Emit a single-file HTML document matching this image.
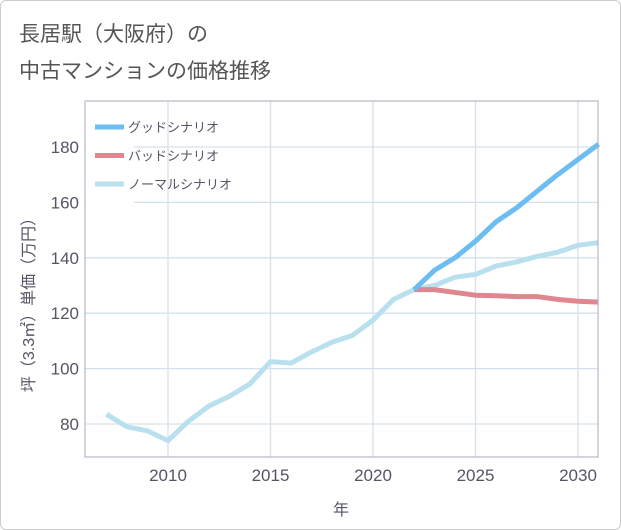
<!DOCTYPE html>
<html><head><meta charset="utf-8"><style>
body{margin:0;background:#fff;}
#wrap{position:relative;width:619px;height:528px;border:1px solid #ccc;border-radius:6px;overflow:hidden;background:#fff;}
text{font-family:"Liberation Sans","Noto Sans CJK JP",sans-serif;}
</style></head><body>
<div id="wrap">
<svg id="chart" width="621" height="530">
<text x="18" y="40" font-size="21" fill="#555">長居駅（大阪府）の</text>
<text x="18" y="77" font-size="21" fill="#555">中古マンションの価格推移</text>
<g id="grid"></g><g id="series"></g><g id="axes"></g>
<g id="legend"></g>
</svg></div>
<script>
const years=[2007,2008,2009,2010,2011,2012,2013,2014,2015,2016,2017,2018,2019,2020,2021,2022,2023,2024,2025,2026,2027,2028,2029,2030,2031];
const normalVals=[83.5,79,77.5,74,81,86.5,90,94.5,102.5,102,106,109.5,112,117.5,125,128.5,130,133,134,137,138.5,140.5,142,144.5,145.5];
const futureYears=[2022,2023,2024,2025,2026,2027,2028,2029,2030,2031];
const goodVals=[128.5,135.5,140,146,153,158,164,170,175.5,181];
const badVals=[128.5,128.5,127.5,126.5,126.3,126,126,125,124.3,124];
const xTicks=[2010,2015,2020,2025,2030];
const yTicks=[80,100,120,140,160,180];
const legendLabels=["グッドシナリオ","バッドシナリオ","ノーマルシナリオ"];
const colors=["#6bbdf2","#e0868e","#b9e0ee"];
const L=84,R=597,T=100,B=456;
const x=v=>167+(v-2010)*(577-167)/20;
const y=v=>423-(v-80)*(423-146)/100;
const NS="http://www.w3.org/2000/svg";
function mk(tag,attrs,parent){const e=document.createElementNS(NS,tag);for(const k in attrs)e.setAttribute(k,attrs[k]);parent.appendChild(e);return e;}
const grid=document.getElementById('grid'),axes=document.getElementById('axes'),series=document.getElementById('series'),legend=document.getElementById('legend');
for(const t of xTicks){
 const l=mk('line',{x1:x(t),x2:x(t),y1:T,y2:B,stroke:'#d5e0ea','stroke-width':1.3},grid);
 
 
 const tx=mk('text',{x:x(t),y:480,'font-size':17,fill:'#556','text-anchor':'middle'},axes);tx.textContent=t;
 
 
}
for(const t of yTicks){
 const l=mk('line',{x1:L,x2:R,y1:y(t),y2:y(t),stroke:'#d5e0ea','stroke-width':1.3},grid);
 
 
 const tx=mk('text',{x:78,y:y(t)+6,'font-size':17,fill:'#556','text-anchor':'end'},axes);tx.textContent=t;
 
 
}
const fr=mk('rect',{x:L,y:T,width:R-L,height:B-T,fill:'none',stroke:'#aab','stroke-width':1},axes);


const xt=mk('text',{x:340,y:514,'font-size':16,fill:'#556','text-anchor':'middle'},axes);xt.textContent='年';


const yt=mk('text',{x:0,y:0,'font-size':16,fill:'#556','text-anchor':'middle',transform:'translate(33,300) rotate(-90)'},axes);yt.textContent='坪（3.3㎡）単価（万円）';


function line(xs,vs,c,name){
 const p=mk('polyline',{points:xs.map((t,i)=>x(t)+','+y(vs[i])).join(' '),fill:'none',stroke:c,'stroke-width':5,'stroke-linejoin':'round'},series);
 
 
}
line(years,normalVals,colors[2],'normal-scenario-line');
line(futureYears,badVals,colors[1],'bad-scenario-line');
line(futureYears,goodVals,colors[0],'good-scenario-line');
const lb=mk('rect',{x:L+1,y:T+1,width:48,height:104,fill:'#fff'},legend);


legendLabels.forEach((s,i)=>{
 const yy=126+i*28.5;
 const g=mk('g',{},legend);
 
 
 mk('line',{x1:94,x2:123,y1:yy,y2:yy,stroke:colors[i],'stroke-width':5},g);
 const t=mk('text',{x:127,y:yy+5,'font-size':13,fill:'#556'},g);t.textContent=s;
});
</script>
</body></html>
